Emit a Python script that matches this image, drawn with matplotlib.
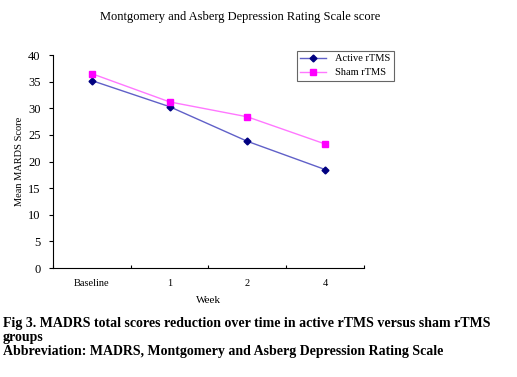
import matplotlib
matplotlib.use("Agg")
import matplotlib.pyplot as plt
from matplotlib.ticker import FixedLocator, NullFormatter

weeks = ["Baseline", "1", "2", "4"]
active = [35.2, 30.3, 23.8, 18.5]
sham = [36.5, 31.2, 28.4, 23.3]

plt.rcParams['font.family'] = ['Liberation Serif', 'DejaVu Serif']

fig = plt.figure(figsize=(5.17, 3.77), dpi=100)
ax = fig.add_axes([0.1025, 0.289, 0.6015, 0.565])

x = range(len(weeks))
l1, = ax.plot(x, active, color='#6060c8', lw=1, marker='D', ms=3.5,
              mfc='#000080', mec='#000080', label='Active rTMS')
l2, = ax.plot(x, sham, color='#ff77ff', lw=1, marker='s', ms=4.5,
              mfc='#ff00ff', mec='#ff00ff', label='Sham rTMS')

ax.set_xlim(-0.5, 3.5)
ax.set_ylim(0, 40)
ax.set_yticks(range(0, 41, 5))
ax.set_xticks(list(x))
ax.set_xticklabels(weeks, fontsize=7.5)
ax.tick_params(axis='x', which='major', length=0, pad=8)
ax.xaxis.set_minor_locator(FixedLocator([-0.5, 0.5, 1.5, 2.5, 3.5]))
ax.xaxis.set_minor_formatter(NullFormatter())
ax.tick_params(axis='x', which='minor', length=2, direction='in', width=0.8)
ax.tick_params(axis='y', labelsize=9, length=3, width=0.8, pad=6)
for s in ['top', 'right']:
    ax.spines[s].set_visible(False)
for s in ['left', 'bottom']:
    ax.spines[s].set_linewidth(0.8)

ax.set_xlabel('Week', fontsize=8, labelpad=6)
ax.set_ylabel('Mean MARDS Score', fontsize=7.5, labelpad=3)

fig.text(0.465, 0.955, 'Montgomery and Asberg Depression Rating Scale score',
         ha='center', va='center', fontsize=9)

leg = fig.legend(handles=[l1, l2], loc='upper left', bbox_to_anchor=(0.574, 0.866),
                 fontsize=7.5, frameon=True, fancybox=False, edgecolor='#404040',
                 borderpad=0.35, handlelength=2.5, labelspacing=0.45, borderaxespad=0)
leg.get_frame().set_linewidth(0.8)

caption = ['Fig 3. MADRS total scores reduction over time in active rTMS versus sham rTMS',
           'groups',
           'Abbreviation: MADRS, Montgomery and Asberg Depression Rating Scale']
for line, yy in zip(caption, [0.133, 0.096, 0.058]):
    fig.text(0.006, yy, line, ha='left', va='baseline', fontsize=10, fontweight='bold')

fig.savefig('out.png', dpi=100)
